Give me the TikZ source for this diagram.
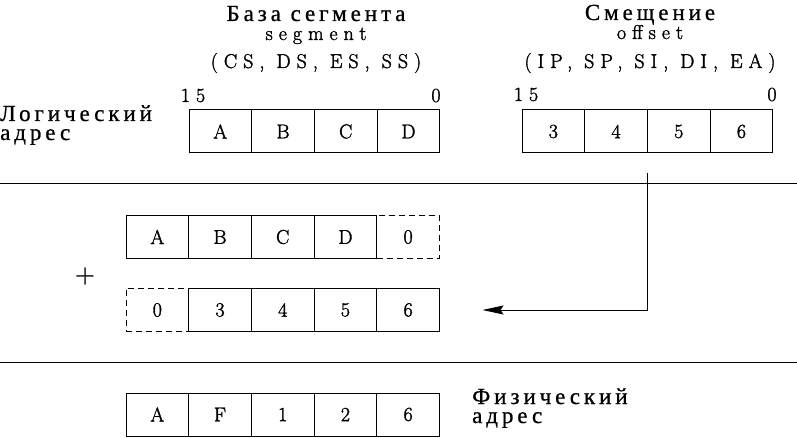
\documentclass[tikz,border=0pt]{standalone}
\usepackage{fontspec}
\setmainfont{Latin Modern Roman}[LetterSpace=30, FakeBold=1.6]
\newfontfamily\cyrfont{Liberation Serif}[LetterSpace=17, FakeBold=0.8]
\newfontfamily\cellfont{Latin Modern Roman}[FakeBold=1.6]
\newcommand\latfont{\normalfont\fontsize{20pt}{19pt}\selectfont}
\usetikzlibrary{positioning,arrows.meta}

\tikzset{
  cell/.style={draw, line width=1pt, minimum width=62.7pt, minimum height=43pt,
    inner sep=0pt, outer sep=0pt, font=\cellfont\fontsize{20pt}{20pt}\selectfont},
  dcell/.style={cell, dash pattern=on 6pt off 4pt},
  lbl/.style={inner sep=0pt, anchor=base},
  cyrlbl/.style={lbl, font=\cyrfont\fontsize{23pt}{19pt}\selectfont},
  arr/.style={line width=1pt, -{Stealth[length=21pt, width=9pt, inset=3pt]}},
}

\begin{document}
\begin{tikzpicture}[x=1pt, y=-1pt, font=\fontsize{20pt}{20pt}\selectfont]
  \useasboundingbox (0,0) rectangle (797,438);

  % logical address: segment
  \node[cyrlbl, align=center] (segname) at (316,40) {База сегмента\\{\latfont segment}};
  \node[lbl] (segregs) at (316,68) {(CS, DS, ES, SS)};
  \node[lbl] (shi) at (193,102) {15};
  \node[lbl] (slo) at (436,102) {0};
  \node[cell] (s1) at (220.35,131.5) {A};
  \node[cell, right=0pt of s1] (s2) {B};
  \node[cell, right=0pt of s2] (s3) {C};
  \node[cell, right=0pt of s3] (s4) {D};

  % logical address: offset
  \node[cyrlbl, align=center] (offname) at (650,39) {Смещение\\{\latfont offset}};
  \node[lbl] (offregs) at (650,68) {(IP, SP, SI, DI, EA)};
  \node[lbl] (ohi) at (526,101) {15};
  \node[lbl] (olo) at (772,101) {0};
  \node[cell] (o1) at (553.35,131.5) {3};
  \node[cell, right=0pt of o1] (o2) {4};
  \node[cell, right=0pt of o2] (o3) {5};
  \node[cell, right=0pt of o3] (o4) {6};

  \node[cyrlbl, anchor=base west, align=left] (logic) at (0,140) {Логический\\адрес};

  \draw[line width=1pt] (0,184) -- (797,184);

  % shifted segment + offset
  \node[cell] (a1) at (157.35,237) {A};
  \node[cell, right=0pt of a1] (a2) {B};
  \node[cell, right=0pt of a2] (a3) {C};
  \node[cell, right=0pt of a3] (a4) {D};
  \node[dcell, right=0pt of a4] (a5) {0};

  \node[font=\cellfont\fontsize{27pt}{27pt}\selectfont] (plus) at (85,276) {+};

  \node[dcell] (b1) at (157.35,310) {0};
  \node[cell, right=0pt of b1] (b2) {3};
  \node[cell, right=0pt of b2] (b3) {4};
  \node[cell, right=0pt of b3] (b4) {5};
  \node[cell, right=0pt of b4] (b5) {6};

  \coordinate[below=20pt of o2.south east] (src);
  \coordinate[right=43pt of b5] (dst);
  \draw[arr] (src) |- (dst);

  \draw[line width=1pt] (0,362) -- (797,362);

  % physical address
  \node[cell] (p1) at (157.35,414.5) {A};
  \node[cell, right=0pt of p1] (p2) {F};
  \node[cell, right=0pt of p2] (p3) {1};
  \node[cell, right=0pt of p3] (p4) {2};
  \node[cell, right=0pt of p4] (p5) {6};

  \node[cyrlbl, anchor=base west, align=left] (phys) at (472,423) {Физический\\адрес};
\end{tikzpicture}
\end{document}
